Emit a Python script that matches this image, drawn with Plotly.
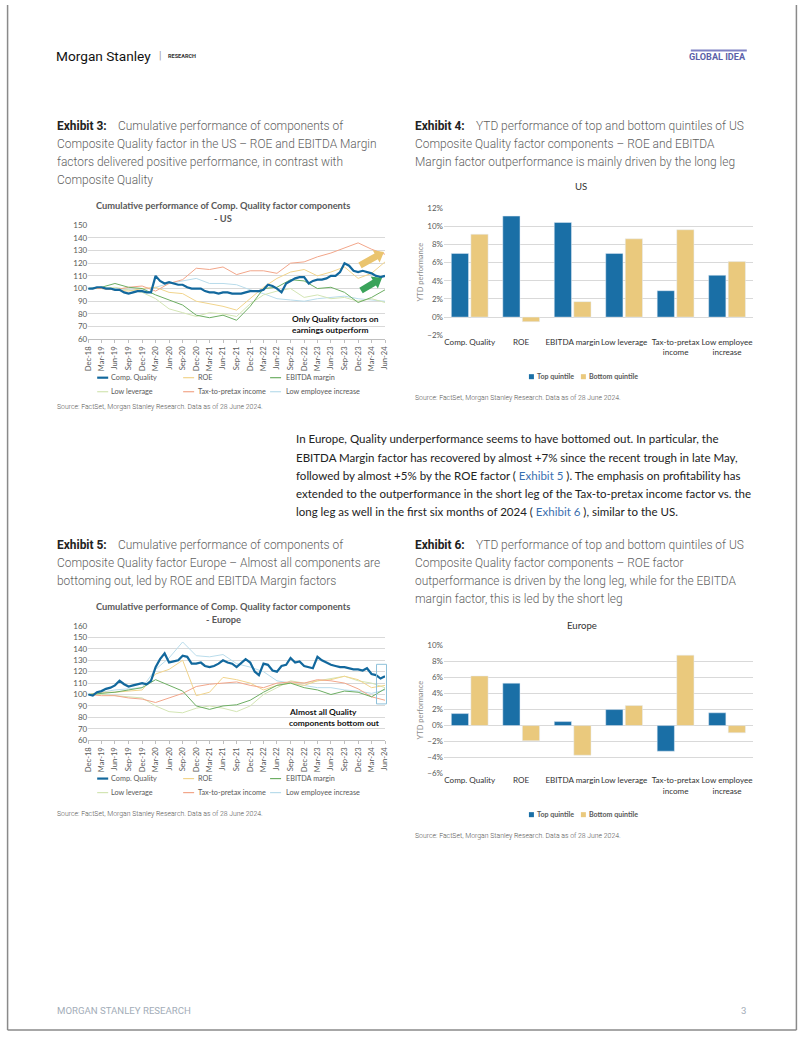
import math
import pandas as pd
import plotly.graph_objects as go

W, H = 802, 1037
# The photographed page comes out slightly shrunk about its centre; positions are
# laid out in page pixels and expanded by K so they land where the reference has them.
K = 1.012
def X(p): return (W / 2 + (p - W / 2) * K) / W
def Y(p): return 1 - (H / 2 + (p - H / 2) * K) / H

# ---------------- DATA ----------------
months = pd.date_range("2018-12-31", "2024-06-30", freq="ME")
quarters = pd.date_range("2018-12-31", "2024-06-30", freq="QE")

series_names = ["Comp. Quality", "ROE", "EBITDA margin", "Low leverage",
                "Tax-to-pretax income", "Low employee increase"]

# US cumulative performance (monthly for Comp. Quality, quarterly for components)
us_comp = [100,
           100, 101, 101, 100, 100, 99, 99, 97, 96, 97, 98, 98,
           97, 97, 110, 106, 104, 105, 104, 103, 103, 101, 100, 100,
           100, 98, 97, 97, 96, 97, 97, 96, 96, 96, 97, 98,
           98, 98, 99, 103, 102, 100, 97, 104, 106, 108, 109, 109,
           104, 106, 107, 107, 108, 110, 110, 113, 120, 118, 114, 113,
           114, 113, 112, 110, 109, 110]
us_roe = [100, 100, 99, 98, 100, 101, 97, 96, 90, 88, 86, 83, 92, 101, 108, 113, 115, 110, 113, 117, 108, 112, 121]
us_ebitda = [100, 101, 104, 101, 100, 95, 91, 87, 79, 77, 79, 75, 86, 100, 101, 107, 106, 100, 101, 97, 89, 93, 99]
us_lowlev = [100, 100, 101, 99, 97, 92, 84, 81, 78, 81, 80, 78, 88, 95, 98, 100, 93, 95, 92, 93, 90, 92, 89]
us_tax = [100, 100, 99, 101, 102, 98, 104, 107, 116, 115, 117, 111, 114, 114, 112, 120, 121, 125, 128, 132, 136, 131, 127]
us_lowemp = [100, 101, 100, 99, 99, 101, 104, 106, 108, 104, 104, 103, 99, 96, 92, 91, 90, 92, 93, 94, 92, 91, 90]

# Europe cumulative performance
eu_comp = [100,
           99, 102, 103, 105, 106, 108, 112, 109, 107, 108, 109, 110,
           109, 112, 124, 131, 136, 128, 129, 130, 134, 133, 127, 127,
           128, 125, 124, 125, 127, 130, 128, 127, 124, 128, 131, 128,
           120, 117, 127, 126, 121, 120, 125, 126, 132, 128, 129, 125,
           124, 123, 133, 130, 128, 126, 125, 124, 124, 123, 122, 122,
           121, 123, 118, 117, 114, 116]
eu_roe = [100, 102, 102, 103, 104, 118, 122, 130, 99, 102, 115, 113, 110, 104, 108, 110, 108, 112, 113, 116, 113, 106, 108]
eu_ebitda = [100, 101, 102, 104, 106, 113, 108, 103, 90, 87, 90, 91, 95, 102, 108, 110, 106, 104, 100, 103, 102, 98, 105]
eu_lowlev = [100, 100, 99, 98, 97, 90, 85, 84, 88, 90, 88, 85, 90, 100, 106, 112, 110, 112, 114, 116, 112, 110, 106]
eu_tax = [100, 99, 99, 97, 96, 93, 97, 101, 107, 109, 110, 111, 108, 106, 110, 111, 110, 113, 112, 110, 105, 98, 95]
eu_lowemp = [100, 102, 104, 105, 106, 122, 132, 146, 134, 133, 135, 127, 124, 120, 112, 110, 108, 106, 106, 104, 103, 101, 104]

# YTD quintile performance (%)
bar_cats = ["Comp. Quality", "ROE", "EBITDA margin", "Low leverage",
            "Tax-to-pretax<br>income", "Low employee<br>increase"]
us_top = [7.0, 11.1, 10.4, 7.0, 2.9, 4.6]
us_bottom = [9.1, -0.5, 1.7, 8.6, 9.6, 6.1]
eu_top = [1.5, 5.3, 0.5, 2.0, -3.2, 1.6]
eu_bottom = [6.2, -1.9, -3.7, 2.5, 8.8, -0.9]

# ---------------- STYLE ----------------
C_COMP = "#12689D"
C_ROE = "#F1D48C"
C_EBITDA = "#6DAE63"
C_LOWLEV = "#D3E5B4"
C_TAX = "#F2A68A"
C_LOWEMP = "#B9DCEB"
series_colors = [C_COMP, C_ROE, C_EBITDA, C_LOWLEV, C_TAX, C_LOWEMP]
C_TOP = "#1A6FA6"
C_BOT = "#EAC97D"
GRID = "#D9D9D9"
TICK = "#595959"
CHART_FONT = "Lato"
PAGE_FONT = "Roboto"

fig = go.Figure()

def add_lines(xa, ya, comp, roe, ebitda, lowlev, tax, lowemp):
    comps = [(quarters, lowemp, C_LOWEMP), (quarters, lowlev, C_LOWLEV),
             (quarters, roe, C_ROE), (quarters, tax, C_TAX),
             (quarters, ebitda, C_EBITDA)]
    for xs, ys, col in comps:
        fig.add_trace(go.Scatter(x=xs, y=ys, mode="lines", xaxis=xa, yaxis=ya,
                                 line=dict(color=col, width=1), showlegend=False,
                                 hoverinfo="skip"))
    fig.add_trace(go.Scatter(x=months, y=comp, mode="lines", xaxis=xa, yaxis=ya,
                             line=dict(color=C_COMP, width=2.2), showlegend=False))

add_lines("x", "y", us_comp, us_roe, us_ebitda, us_lowlev, us_tax, us_lowemp)
add_lines("x3", "y3", eu_comp, eu_roe, eu_ebitda, eu_lowlev, eu_tax, eu_lowemp)

for xa, ya, top, bot in [("x2", "y2", us_top, us_bottom), ("x4", "y4", eu_top, eu_bottom)]:
    fig.add_trace(go.Bar(x=bar_cats, y=top, xaxis=xa, yaxis=ya, marker_color=C_TOP,
                         showlegend=False, offsetgroup="a"))
    fig.add_trace(go.Bar(x=bar_cats, y=bot, xaxis=xa, yaxis=ya, marker_color=C_BOT,
                         showlegend=False, offsetgroup="b"))

tickfont = dict(family=CHART_FONT, size=8, color=TICK)

def line_x(dom, anchor):
    return dict(domain=dom, anchor=anchor, type="date",
                range=["2018-12-31", "2024-06-30"], tickvals=list(quarters),
                tickformat="%b-%y", tickangle=-90,
                tickfont=dict(family=CHART_FONT, size=7.6, color=TICK),
                showline=True, linecolor="#BFBFBF", ticks="outside", ticklen=3,
                tickcolor="#BFBFBF", showgrid=False, zeroline=False)

def line_y(dom, anchor, lo, hi):
    return dict(domain=dom, anchor=anchor, range=[lo, hi + 0.05], dtick=10, tick0=lo,
                gridcolor=GRID, gridwidth=1, tickfont=tickfont, showline=False,
                zeroline=False, ticks="")

def bar_x(dom, anchor):
    return dict(domain=dom, anchor=anchor, type="category", tickangle=0,
                tickfont=dict(family=CHART_FONT, size=8.1, color="#333"),
                showline=False, ticks="", showgrid=False, zeroline=False)

def bar_y(dom, anchor, lo, hi):
    return dict(domain=dom, anchor=anchor, range=[lo - 0.03, hi + 0.03], dtick=2, tick0=lo,
                ticksuffix="%", gridcolor=GRID, tickfont=tickfont, showline=False,
                zeroline=False, ticks="")

fig.update_layout(
    width=W, height=H, margin=dict(l=0, r=0, t=0, b=0),
    paper_bgcolor="white", plot_bgcolor="white",
    barmode="group", bargap=0.24, bargroupgap=0.12,
    xaxis=line_x([X(87), X(384)], "y"),
    yaxis=line_y([Y(339.7), Y(225.7)], "x", 60, 150),
    xaxis3=line_x([X(87), X(384)], "y3"),
    yaxis3=line_y([Y(739.7), Y(625.7)], "x3", 60, 160),
    xaxis2=bar_x([X(443), X(752)], "y2"),
    yaxis2=bar_y([Y(336), Y(208.3)], "x2", -2, 12),
    xaxis4=bar_x([X(443), X(752)], "y4"),
    yaxis4=bar_y([Y(773.3), Y(645)], "x4", -6, 10),
)

ann = []
shapes = []

def text(x, y, s, size, color="#333", family=PAGE_FONT, weight=None, xanchor="left", **kw):
    f = dict(family=family, size=size * K, color=color)
    if weight is not None:
        f["weight"] = weight
    ann.append(dict(x=X(x), y=Y(y), xref="paper", yref="paper", text=s, showarrow=False,
                    xanchor=xanchor, yanchor="middle", font=f, borderpad=0, **kw))

# Header
text(54, 57, "Morgan Stanley", 13.5, color="#111", weight=400)
text(157, 57, "|", 10, color="#999")
text(166, 57.5, "<b>RESEARCH</b>", 5.5, color="#333")
text(746, 58, "<b>GLOBAL IDEA</b>", 9, color="#5A5FA8", xanchor="right")
shapes.append(dict(type="line", xref="paper", yref="paper", x0=X(690), x1=X(746), y0=Y(51.5), y1=Y(51.5),
                   line=dict(color="#7E82C4", width=2)))

# Captions
CAP = 11.8
CAPC = "#5F5F5F"
def caption(x0, xt, y0, label, lines):
    text(x0, y0, "<b>" + label + "</b>", CAP, color="#222", weight=400)
    text(xt, y0, lines[0], CAP, color=CAPC, weight=300)
    for i, l in enumerate(lines[1:]):
        text(x0, y0 + 18 * (i + 1), l, CAP, color=CAPC, weight=300)

caption(55, 116, 127, "Exhibit 3:", ["Cumulative performance of components of",
        "Composite Quality factor in the US – ROE and EBITDA Margin",
        "factors delivered positive performance, in contrast with",
        "Composite Quality"])
caption(413, 474, 127, "Exhibit 4:", ["YTD performance of top and bottom quintiles of US",
        "Composite Quality factor components – ROE and EBITDA",
        "Margin factor outperformance is mainly driven by the long leg"])
caption(55, 116, 545, "Exhibit 5:", ["Cumulative performance of components of",
        "Composite Quality factor Europe – Almost all components are",
        "bottoming out, led by ROE and EBITDA Margin factors"])
caption(413, 474, 545, "Exhibit 6:", ["YTD performance of top and bottom quintiles of US",
        "Composite Quality factor components – ROE factor",
        "outperformance is driven by the long leg, while for the EBITDA",
        "margin factor, this is led by the short leg"])

# Paragraph
LINK = "#3A6FB0"
def link(s):
    return "<span style='color:" + LINK + "'>" + s + "</span>"
para = ["In Europe, Quality underperformance seems to have bottomed out. In particular, the",
        "EBITDA Margin factor has recovered by almost +7% since the recent trough in late May,",
        "followed by almost +5% by the ROE factor ( " + link("Exhibit 5") + " ). The emphasis on profitability has",
        "extended to the outperformance in the short leg of the Tax-to-pretax income factor vs. the",
        "long leg as well in the first six months of 2024 ( " + link("Exhibit 6") + " ), similar to the US."]
for l, yy in zip(para, [439, 457.5, 476, 494, 512]):
    text(294, yy, l, 11.4, color="#222", family="Lato")

# Chart titles
text(222, 206, "<b>Cumulative performance of Comp. Quality factor components</b>", 9.2, color=TICK, family=CHART_FONT, xanchor="center")
text(222, 219.5, "<b>- US</b>", 9.2, color=TICK, family=CHART_FONT, xanchor="center")
text(222, 606, "<b>Cumulative performance of Comp. Quality factor components</b>", 9.2, color=TICK, family=CHART_FONT, xanchor="center")
text(222, 619.5, "<b>- Europe</b>", 9.2, color=TICK, family=CHART_FONT, xanchor="center")
text(580, 187, "US", 9.5, color="#333", family=CHART_FONT, xanchor="center")
text(581, 625, "Europe", 9.5, color="#333", family=CHART_FONT, xanchor="center")

# Y titles on bar charts
for yc in [272, 709]:
    ann.append(dict(x=X(419), y=Y(yc), xref="paper", yref="paper", text="YTD performance",
                    showarrow=False, textangle=-90, xanchor="center", yanchor="middle",
                    font=dict(family=CHART_FONT, size=7.5, color="#8C8C8C")))

# Line-chart legends
def line_legend(y1):
    cols = [(97, 109), (183, 196), (270, 284)]
    for i, (name, col) in enumerate(zip(series_names, series_colors)):
        r, c = divmod(i, 3)
        yy = y1 + 14 * r
        lx, tx = cols[c]
        shapes.append(dict(type="line", xref="paper", yref="paper", x0=X(lx - 1), x1=X(lx + 10),
                           y0=Y(yy), y1=Y(yy),
                           line=dict(color=col, width=2.2 if i == 0 else 1.2)))
        text(tx, yy, name, 7.2, color=TICK, family=CHART_FONT)

line_legend(378)
line_legend(778)

# Bar legends
def bar_legend(yy):
    for sx, tx, col, name in [(531, 535, C_TOP, "Top quintile"), (583, 587, C_BOT, "Bottom quintile")]:
        shapes.append(dict(type="rect", xref="paper", yref="paper", x0=X(sx - 3), x1=X(sx + 2),
                           y0=Y(yy + 2.5), y1=Y(yy - 2.5), fillcolor=col, line=dict(width=0)))
        text(tx, yy, "<b>" + name + "</b>", 7, color=TICK, family=CHART_FONT)

bar_legend(377)
bar_legend(814)

# Chart annotations
text(290, 319, "<b>Only Quality factors on</b>", 8.3, color="#111", family=CHART_FONT)
text(290, 330.5, "<b>earnings outperform</b>", 8.3, color="#111", family=CHART_FONT)
text(287, 712, "<b>Almost all Quality</b>", 8.3, color="#111", family=CHART_FONT)
text(287, 722.5, "<b>components bottom out</b>", 8.3, color="#111", family=CHART_FONT)

def arrow_path(tail, tip, bhw=3.3, hhw=7.0, hl=9.0):
    dx, dy = tip[0] - tail[0], tip[1] - tail[1]
    L = math.hypot(dx, dy)
    ux, uy = dx / L, dy / L
    nx, ny = -uy, ux
    nk = (tip[0] - ux * hl, tip[1] - uy * hl)
    pts = [(tail[0] + nx * bhw, tail[1] + ny * bhw), (nk[0] + nx * bhw, nk[1] + ny * bhw),
           (nk[0] + nx * hhw, nk[1] + ny * hhw), tip,
           (nk[0] - nx * hhw, nk[1] - ny * hhw), (nk[0] - nx * bhw, nk[1] - ny * bhw),
           (tail[0] - nx * bhw, tail[1] - ny * bhw)]
    return "M " + " L ".join("%.5f,%.5f" % (X(a), Y(b)) for a, b in pts) + " Z"

for tail, tip, col in [((359, 266), (383, 252.5), "#EAC46E"), ((360, 291), (381, 278.5), "#3AA35A")]:
    shapes.append(dict(type="path", xref="paper", yref="paper", path=arrow_path(tail, tip),
                       fillcolor=col, line=dict(width=0)))

shapes.append(dict(type="rect", xref="paper", yref="paper", x0=X(375.5), x1=X(385.5),
                   y0=Y(703.5), y1=Y(664), line=dict(color="#8EC1DA", width=1)))

# Sources
SRC = "Source: FactSet, Morgan Stanley Research. Data as of 28 June 2024."
for sx, sy in [(55, 407), (413, 398), (55, 813), (413, 835)]:
    text(sx, sy, SRC, 6.8, color="#555", weight=300)

# Footer
text(55, 1009, "MORGAN STANLEY RESEARCH", 9.5, color="#A3ADB8")
text(746, 1009, "3", 9.5, color="#A3ADB8", xanchor="right")

# Page border (at the very edges of the figure)
for x0, y0, x1, y1 in [(0.002, 1, 0.002, 0.002), (0.998, 1, 0.998, 0.002), (0.002, 0.002, 0.998, 0.002)]:
    shapes.append(dict(type="line", xref="paper", yref="paper", x0=x0, x1=x1, y0=y0, y1=y1,
                       line=dict(color="#8A8A8A", width=1.5)))

fig.update_layout(annotations=ann, shapes=shapes)
fig.write_html(
    "out.html",
    config={"displayModeBar": False},
    post_script=("document.documentElement.style.margin='0px';"
                 "document.documentElement.style.padding='0px';"
                 "document.body.style.margin='0px';document.body.style.padding='0px';"
                 "document.body.style.overflow='hidden';"),
)
